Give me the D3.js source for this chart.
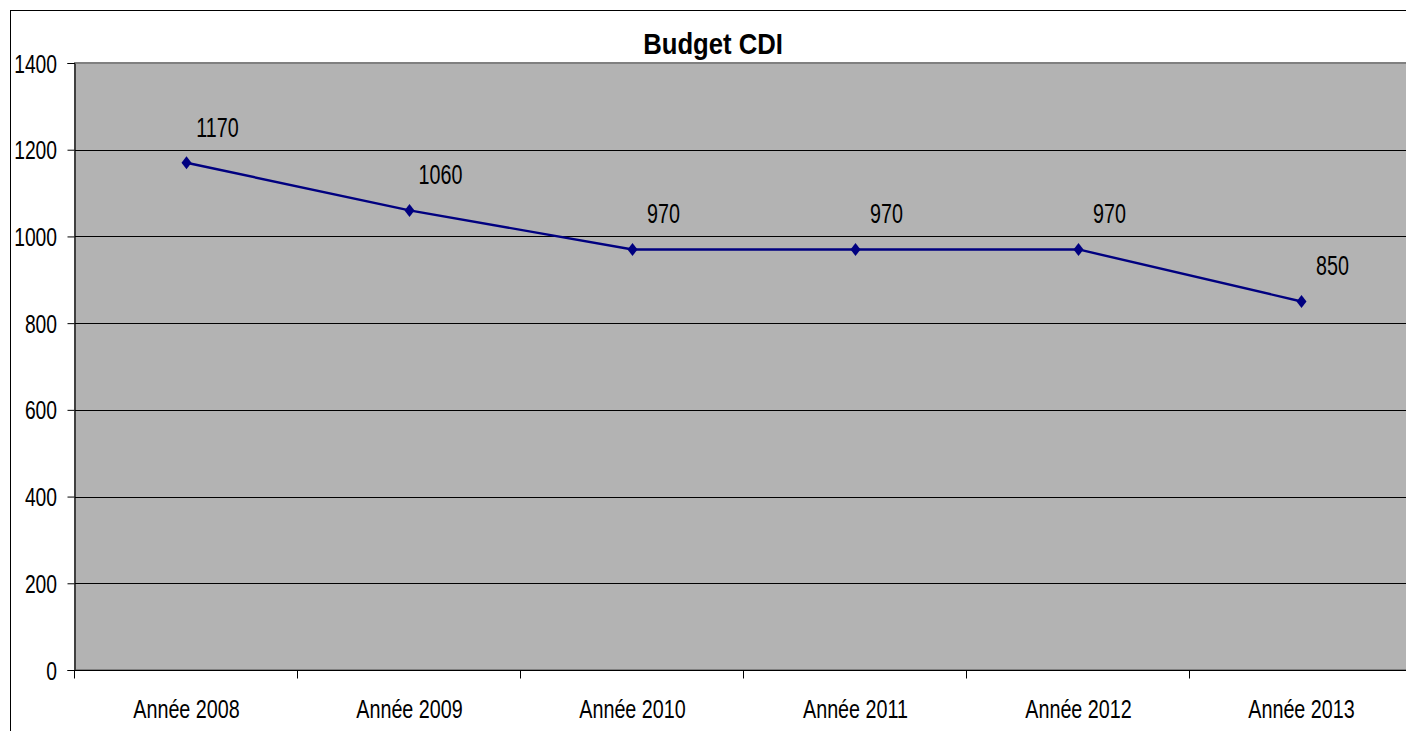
<!DOCTYPE html>
<html><head><meta charset="utf-8">
<script src="https://cdn.jsdelivr.net/npm/d3@7"></script>
<style>
html,body{margin:0;padding:0;background:#fff;overflow:hidden}
text{font-family:"Liberation Sans",Arial,sans-serif}
</style></head><body>
<svg id="c" width="1406" height="731"></svg>
<script>
const title = "Budget CDI";
const categories = ["Année 2008","Année 2009","Année 2010","Année 2011","Année 2012","Année 2013"];
const values = [1170,1060,970,970,970,850];
const yTicks = [0,200,400,600,800,1000,1200,1400];

const svg = d3.select("#c");
const W = 1406, H = 731;
const m = {left:75, top:63, right:1413, bottom:670};

// narrow text helper: place text at (px,py) horizontally condensed by s
function narrow(sel, px, py, s){
  sel.attr("x",0).attr("y",0)
     .attr("transform",(d,i,n)=>`translate(${typeof px==="function"?px(d,i,n):px},${typeof py==="function"?py(d,i,n):py}) scale(${s},1)`);
}

// outer chart border
svg.append("rect").attr("x",10.5).attr("y",10.5).attr("width",W+20).attr("height",H+20)
  .attr("fill","#fff").attr("stroke","#000").attr("stroke-width",1);

const x = d3.scaleBand().domain(categories).range([m.left,m.right]).padding(0);
const y = d3.scaleLinear().domain([0,1400]).range([m.bottom,m.top]);

// plot area
svg.append("rect").attr("x",m.left).attr("y",m.top).attr("width",m.right-m.left).attr("height",m.bottom-m.top)
  .attr("fill","#b3b3b3").attr("stroke","#808080").attr("stroke-width",2);

// gridlines
svg.append("g").selectAll("line").data(yTicks.filter(d=>d>0 && d<1400)).join("line")
  .attr("x1",m.left).attr("x2",m.right)
  .attr("y1",d=>Math.round(y(d))+0.5).attr("y2",d=>Math.round(y(d))+0.5)
  .attr("stroke","#000").attr("stroke-width",1);

// y axis
const yAxis = d3.axisLeft(y).tickValues(yTicks).tickSize(7).tickPadding(10).tickFormat(d3.format("d"));
const gy = svg.append("g").attr("transform",`translate(${m.left-0.5},0)`).call(yAxis);
gy.select(".domain").attr("stroke","#000");
gy.selectAll(".tick line").attr("stroke","#000");
gy.selectAll(".tick text").attr("font-size",25).attr("fill","#000").attr("dy","0.36em")
  .call(narrow, -17.5, 0, 0.77);

// x axis
const xAxisScale = d3.scaleLinear().domain([0,categories.length]).range([m.left,m.right]);
const gx = svg.append("g").attr("transform",`translate(0,${m.bottom+0.5})`);
gx.append("line").attr("x1",m.left).attr("x2",m.right).attr("stroke","#000");
gx.selectAll("line.t").data(d3.range(categories.length+1)).join("line").attr("class","t")
  .attr("x1",d=>Math.round(xAxisScale(d))-0.5).attr("x2",d=>Math.round(xAxisScale(d))-0.5)
  .attr("y1",0).attr("y2",8).attr("stroke","#000");
gx.selectAll("text").data(categories).join("text")
  .attr("text-anchor","middle").attr("font-size",25).attr("fill","#000").text(d=>d)
  .call(narrow, d=>x(d)+x.bandwidth()/2, 47.5, 0.79);

// line
const data = categories.map((c,i)=>({c,v:values[i]}));
const cx = d=>x(d.c)+x.bandwidth()/2;
svg.append("path").datum(data)
  .attr("d",d3.line().x(cx).y(d=>y(d.v)))
  .attr("fill","none").attr("stroke","#000080").attr("stroke-width",2.4);
svg.append("g").selectAll("path").data(data).join("path")
  .attr("transform",d=>`translate(${cx(d)},${y(d.v)})`)
  .attr("d","M0,-6.5L5,0L0,6.5L-5,0Z").attr("fill","#000080");

// data labels
svg.append("g").selectAll("text").data(data).join("text")
  .attr("text-anchor","middle").attr("font-size",27).attr("fill","#000").text(d=>d.v)
  .call(narrow, d=>cx(d)+31, d=>y(d.v)-26, 0.73);

// title
svg.append("text").attr("text-anchor","middle")
  .attr("font-size",29.5).attr("font-weight","bold").attr("fill","#000").text(title)
  .call(narrow, 713, 54, 0.87);
</script></body></html>
